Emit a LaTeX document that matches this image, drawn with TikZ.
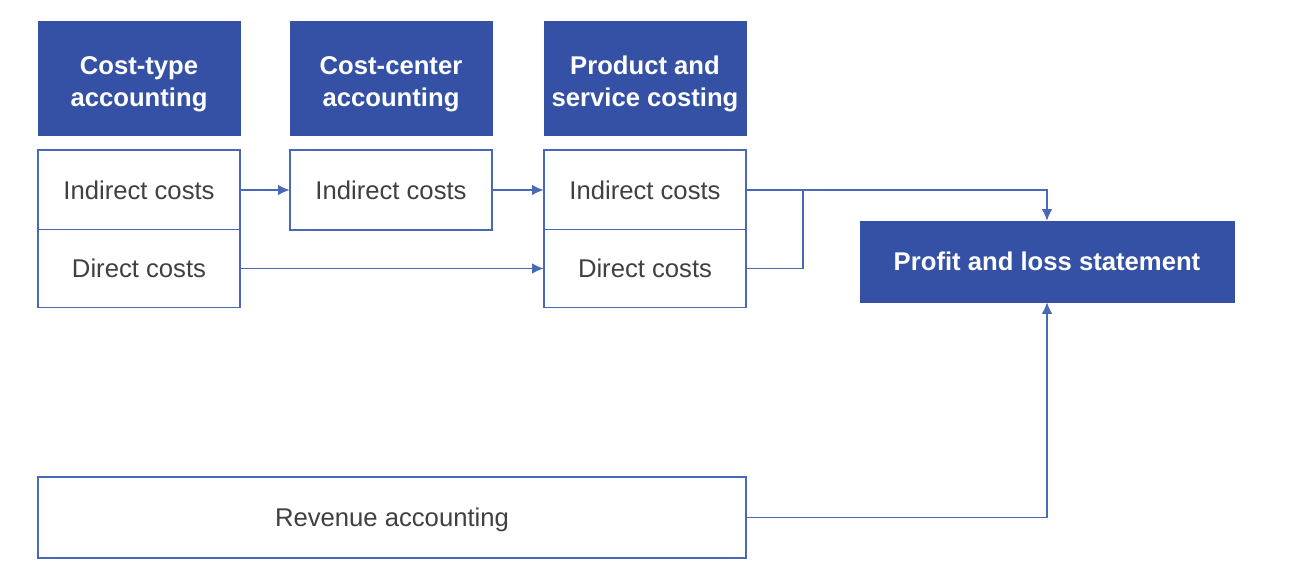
\documentclass[tikz,border=0pt]{standalone}
\usepackage{fontspec}
\setmainfont{Liberation Sans}
\usepackage{xcolor}
\usepackage{tikz}
\usetikzlibrary{arrows.meta,positioning,calc}
\definecolor{plblue}{HTML}{3451A5}
\definecolor{edgeblue}{HTML}{4A68B8}
\definecolor{plgray}{HTML}{404040}
\tikzset{
  headbox/.style={rectangle,fill=plblue,draw=plblue,text=white,font=\fontsize{14.6}{18.3}\selectfont\bfseries,align=center,minimum width=4.04cm,minimum height=2.28cm,inner sep=0pt,text depth=0pt},
  costbox/.style={rectangle,draw=edgeblue,line width=0.6pt,fill=white,text=plgray,font=\fontsize{14.6}{17.6}\selectfont,minimum width=4.04cm,inner sep=0pt,text depth=0pt},
  flow/.style={draw=edgeblue,line width=0.7pt,-{Latex[length=6.5pt,width=6pt]}}
}
\begin{document}
\begin{tikzpicture}
  \useasboundingbox (0,0) rectangle (26.08,11.6);

  % column heads
  \node[headbox,text height=33pt] at (2.78,10.04) (typehead) {Cost-type\\accounting};
  \node[headbox,text height=33pt] at (7.82,10.04) (centerhead) {Cost-center\\accounting};
  \node[headbox,text height=33pt] at (12.9,10.04) (producthead) {Product and\\service costing};

  % cost blocks
  \node[costbox,minimum height=1.6cm] at (2.78,7.8) (indirA) {Indirect costs};
  \node[costbox,minimum height=1.55cm] at (2.78,6.23) (dirA) {Direct costs};
  \node[costbox,minimum height=1.6cm] at (7.82,7.8) (indirB) {Indirect costs};
  \node[costbox,minimum height=1.6cm] at (12.9,7.8) (indirC) {Indirect costs};
  \node[costbox,minimum height=1.55cm] at (12.9,6.23) (dirC) {Direct costs};

  \node[headbox,minimum width=7.48cm,minimum height=1.62cm] at (20.94,6.37) (pl) {Profit and loss statement};
  \node[costbox,minimum width=14.16cm,minimum height=1.62cm] at (7.84,1.25) (rev) {Revenue accounting};

  \coordinate (join) at (16.06,7.8);

  % flows
  \draw[flow] (indirA) -- (indirB);
  \draw[flow] (indirB) -- (indirC);
  \draw[flow] (dirA) -- (dirC);
  \draw[flow] (indirC.east) -| (pl.north);
  \draw[draw=edgeblue,line width=0.7pt] (dirC.east) -| (join);
  \draw[flow] (rev.east) -| (pl.south);

\end{tikzpicture}
\end{document}
